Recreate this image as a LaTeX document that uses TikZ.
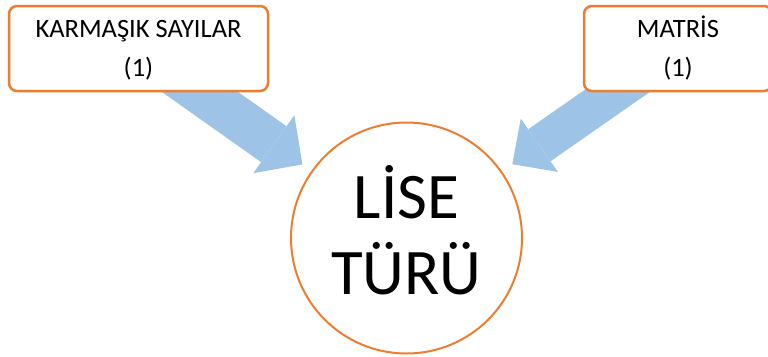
\documentclass[tikz,border=0pt]{standalone}
\usepackage{fontspec}
\setmainfont{Carlito}
\usetikzlibrary{positioning,arrows.meta,backgrounds}
\definecolor{kenar}{HTML}{ED7D31}
\definecolor{okmavi}{HTML}{9DC3E6}

\begin{document}
\begin{tikzpicture}[x=1pt, y=-1pt,
        kutu/.style={draw=kenar, line width=2.5pt, rounded corners=8pt, fill=white, align=center,
          minimum height=85pt, text height=55pt, text depth=0pt, font=\fontsize{26.5}{39}\selectfont},
        daire/.style={draw=kenar, line width=2pt, circle, fill=white, minimum size=231pt, inner sep=0pt,
          align=center, text height=112pt, text depth=0pt, font=\fontsize{65}{76}\selectfont},
        okbuyuk/.style={draw=okmavi, shorten <=-40pt}]
    \useasboundingbox (0,0) rectangle (768,356);
    \node[kutu, minimum width=259pt] (karmasik) at (138.5,48.5) {KARMAŞIK SAYILAR\\(1)};
    \node[kutu, minimum width=188pt] (matris) at (678,48.5) {MATRİS\\(1)};
    \node[daire] (lise) at (406.5,238) {LİSE\\TÜRÜ};
    \begin{scope}[on background layer]
      \draw[okbuyuk, line width=44pt, shorten >=11pt,
        -{Triangle[length=35pt, width=71pt, line width=0pt]}] (karmasik) -- (lise);
      \draw[okbuyuk, line width=39pt, shorten >=12.5pt,
        -{Triangle[length=33pt, width=65pt, line width=0pt]}] (matris) -- (lise);
    \end{scope}
\end{tikzpicture}
\end{document}
